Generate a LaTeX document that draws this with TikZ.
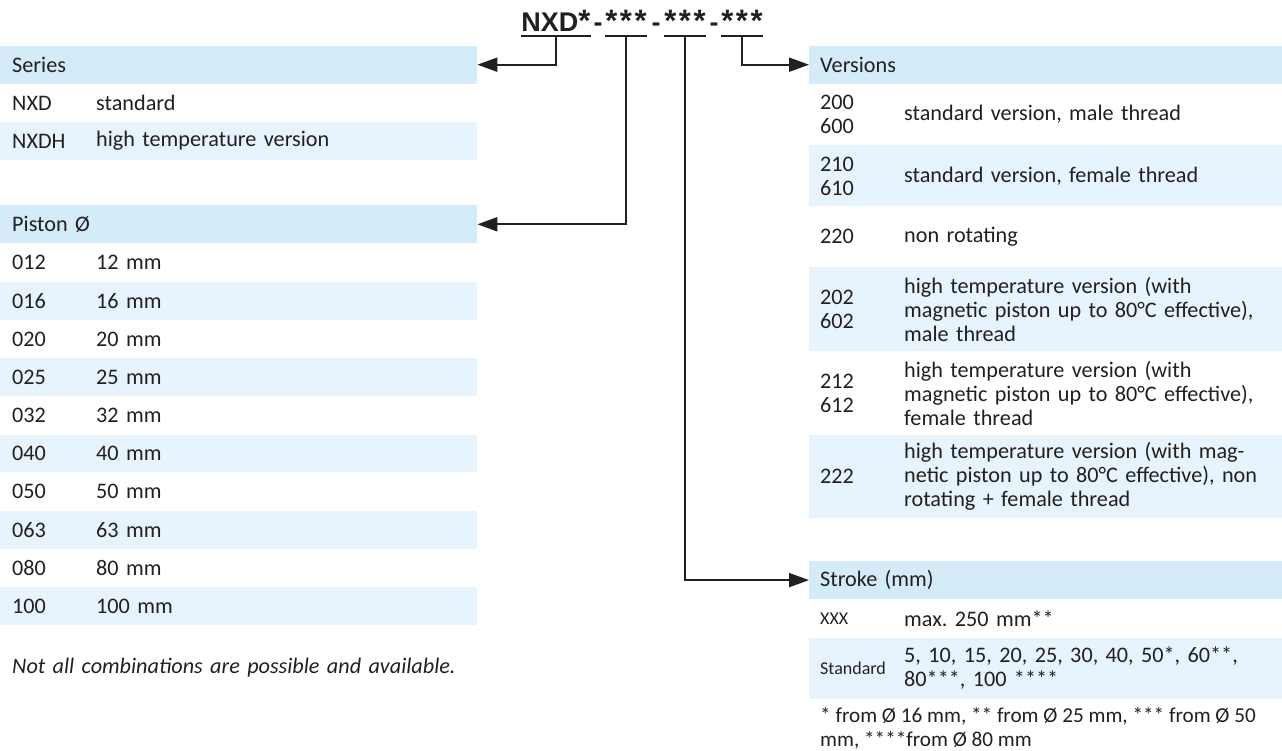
\documentclass[tikz,border=0pt]{standalone}
\usepackage{fontspec}
\setmainfont{Carlito}
\newfontfamily\titlefont{Liberation Sans}
\usetikzlibrary{arrows.meta,positioning}
\definecolor{ink}{HTML}{231F20}
\definecolor{headblue}{HTML}{D4EBFA}
\definecolor{rowblue}{HTML}{E8F4FD}
\frenchspacing
\newcommand{\bodysize}{\fontsize{22.2}{24}\selectfont}
\newcommand{\smallsize}{\fontsize{18}{20}\selectfont}
\newcommand{\codecol}[1]{\parbox[c]{84pt}{#1}}
\newcommand{\desccol}[1]{\parbox[c]{360pt}{#1}}
\newcommand{\stars}{{\fontsize{31}{31}\selectfont*\kern2.5pt*\kern2.5pt*}}
\tikzset{
  cell/.style={
    rectangle,
    inner xsep=12pt,
    inner ysep=0pt,
    minimum height=37.8pt,
    text width=453pt,
    align=left,
    font=\bodysize,
    text=ink
  },
  head/.style={cell,fill=headblue},
  shade/.style={cell,fill=rowblue},
  rcell/.style={cell,inner xsep=11pt,text width=451pt},
  rhead/.style={rcell,fill=headblue},
  rshade/.style={rcell,fill=rowblue},
  footnote/.style={
    inner xsep=11pt,
    inner ysep=0pt,
    align=left,
    font=\fontsize{21.2}{24}\selectfont,
    text=ink
  },
  code/.style={
    inner sep=0pt,
    text depth=4pt,
    anchor=base,
    font=\titlefont\bfseries\fontsize{27}{27}\selectfont,
    text=ink
  },
  arrow/.style={-{Triangle[length=20pt,width=14pt]},line width=2pt,draw=ink},
  uline/.style={line width=2pt,draw=ink}
}

\begin{document}
\begin{tikzpicture}[x=1pt,y=-1pt]
  \useasboundingbox (0,0) rectangle (1282,751);

  % order code
  \node[code] (nxd) at (556,32) {NXD{\fontsize{31}{31}\selectfont*}};
  \node[code,text depth=0pt] (dash1) at (598,32) {-};
  \node[code] (grp1) at (626,32) {\stars};
  \node[code,text depth=0pt] (dash2) at (656,32) {-};
  \node[code] (grp2) at (685,32) {\stars};
  \node[code,text depth=0pt] (dash3) at (714,32) {-};
  \node[code] (grp3) at (742,32) {\stars};
  \foreach \g in {nxd,grp1,grp2,grp3}
    \draw[uline] (\g.south west) -- (\g.south east);

  % series
  \node[head,anchor=north west] (series) at (0,45.6) {Series};
  \node[cell,below=0pt of series] (snxd) {\codecol{NXD}\desccol{standard}};
  \node[shade,below=0pt of snxd] (snxdh) {\codecol{NXDH}\desccol{high temperature version}};

  % piston
  \node[head,below=45pt of snxdh] (piston) {Piston Ø};
  \node[cell,below=0pt of piston] (p012) {\codecol{012}\desccol{12 mm}};
  \node[shade,below=0pt of p012] (p016) {\codecol{016}\desccol{16 mm}};
  \node[cell,below=0pt of p016] (p020) {\codecol{020}\desccol{20 mm}};
  \node[shade,below=0pt of p020] (p025) {\codecol{025}\desccol{25 mm}};
  \node[cell,below=0pt of p025] (p032) {\codecol{032}\desccol{32 mm}};
  \node[shade,below=0pt of p032] (p040) {\codecol{040}\desccol{40 mm}};
  \node[cell,below=0pt of p040] (p050) {\codecol{050}\desccol{50 mm}};
  \node[shade,below=0pt of p050] (p063) {\codecol{063}\desccol{63 mm}};
  \node[cell,below=0pt of p063] (p080) {\codecol{080}\desccol{80 mm}};
  \node[shade,below=0pt of p080] (p100) {\codecol{100}\desccol{100 mm}};
  \node[cell,below=32pt of p100,minimum height=0pt,font=\bodysize\itshape] (note)
    {Not all combinations are possible and available.};

  % versions
  \node[rhead,anchor=north west] (versions) at (809,45.6) {Versions};
  \node[rcell,below=0pt of versions,minimum height=61pt] (v200)
    {\codecol{200\\600}\desccol{standard version, male thread}};
  \node[rshade,below=0pt of v200,minimum height=61pt] (v210)
    {\codecol{210\\610}\desccol{standard version, female thread}};
  \node[rcell,below=0pt of v210,minimum height=60pt] (v220)
    {\codecol{220}\desccol{non rotating}};
  \node[rshade,below=0pt of v220,minimum height=84pt] (v202)
    {\codecol{202\\602}\desccol{high temperature version (with\\magnetic piston up to 80°C effective),\\male thread}};
  \node[rcell,below=0pt of v202,minimum height=83pt] (v212)
    {\codecol{212\\612}\desccol{high temperature version (with\\magnetic piston up to 80°C effective),\\female thread}};
  \node[rshade,below=0pt of v212,minimum height=83pt] (v222)
    {\codecol{222}\desccol{high temperature version (with mag-\\netic piston up to 80°C effective), non\\rotating + female thread}};

  % stroke
  \node[rhead,anchor=north west] (stroke) at (809,561) {Stroke (mm)};
  \node[rcell,below=0pt of stroke] (sxxx) {\codecol{\smallsize XXX}\desccol{max. 250 mm**}};
  \node[rshade,below=0pt of sxxx,minimum height=61pt] (sstd)
    {\codecol{\smallsize Standard}\desccol{5, 10, 15, 20, 25, 30, 40, 50*, 60**,\\80***, 100 ****}};
  \node[footnote,below=8pt of sstd.south west,anchor=north west] (foot)
    {* from Ø 16 mm, ** from Ø 25 mm, *** from Ø 50\\mm, ****from Ø 80 mm};

  \draw[arrow] (nxd.south) |- (series.east);
  \draw[arrow] (grp1.south) |- (piston.east);
  \draw[arrow] (grp2.south) |- (stroke.west);
  \draw[arrow] (grp3.south) |- (versions.west);
\end{tikzpicture}
\end{document}
